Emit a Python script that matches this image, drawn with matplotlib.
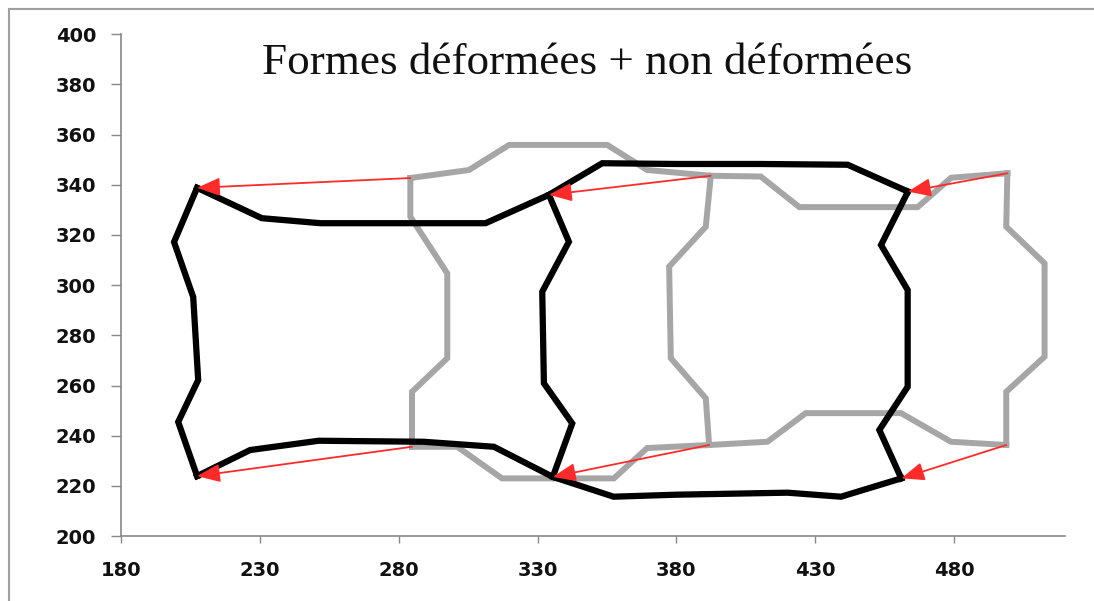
import matplotlib
matplotlib.use('Agg')
import matplotlib.pyplot as plt
from matplotlib.patches import Rectangle

# deformed mesh (black)
def_top_x = [207.4, 230.7, 251.8, 311.3, 334.1, 353.3, 380.0, 410.0, 441.7, 463.4]
def_top_y = [338.8, 326.7, 324.7, 324.7, 336.0, 348.6, 348.3, 348.3, 348.0, 337.3]
def_bot_x = [207.4, 226.5, 251.2, 288.9, 314.3, 335.5, 357.4, 380.0, 420.0, 439.3, 461.0]
def_bot_y = [223.9, 234.3, 238.0, 237.6, 235.6, 223.6, 215.7, 216.5, 217.3, 215.7, 223.0]
def_left_x = [207.4, 199.1, 206.0, 207.8, 200.6, 207.4]
def_left_y = [338.8, 317.2, 295.3, 262.2, 245.5, 223.9]
def_mid_x = [334.1, 341.3, 331.7, 332.3, 342.5, 335.5]
def_mid_y = [336.0, 317.3, 297.4, 260.9, 244.9, 223.6]
def_right_x = [463.4, 453.7, 463.3, 463.3, 453.1, 461.0]
def_right_y = [337.3, 316.0, 298.1, 259.5, 242.3, 223.0]

# undeformed mesh (grey)
und_top_x = [284.2, 305.3, 319.8, 355.1, 369.5, 392.4, 410.4, 424.3, 466.9, 478.9, 499.2]
und_top_y = [342.7, 345.9, 355.9, 355.9, 345.9, 343.6, 343.3, 331.1, 331.1, 342.8, 344.6]
und_bot_x = [284.8, 301.1, 317.2, 357.5, 369.5, 391.8, 412.8, 426.6, 460.9, 478.9, 498.8]
und_bot_y = [235.6, 235.6, 223.0, 223.0, 235.1, 236.3, 237.6, 249.0, 249.0, 237.6, 236.3]
und_left_x = [284.2, 284.2, 297.5, 297.5, 284.8, 284.8]
und_left_y = [342.7, 327.3, 304.7, 270.9, 257.5, 235.6]
und_mid_x = [392.4, 390.6, 377.4, 378.0, 390.6, 391.8]
und_mid_y = [343.6, 323.3, 307.4, 270.9, 254.9, 236.3]
und_right_x = [499.2, 498.8, 512.6, 512.6, 498.8, 498.8]
und_right_y = [344.6, 323.3, 308.7, 271.5, 257.5, 236.3]

# displacement of the corner nodes: start (undeformed) -> end (deformed)
arrow_x0 = [284.2, 284.8, 392.4, 391.8, 499.2, 498.8]
arrow_y0 = [342.7, 235.6, 343.6, 236.3, 344.6, 236.3]
arrow_x1 = [207.4, 207.4, 334.1, 335.5, 463.4, 461.0]
arrow_y1 = [338.8, 223.9, 336.0, 223.6, 337.3, 223.0]

x_ticks = [180, 230, 280, 330, 380, 430, 480]
y_ticks = [200, 220, 240, 260, 280, 300, 320, 340, 360, 380, 400]

fig = plt.figure(figsize=(10.94, 6.01), dpi=100)
ax = fig.add_axes([0.1106, 0.108, 0.863, 0.835])

grey = '#a6a6a6'
for xs, ys in [(und_top_x, und_top_y), (und_bot_x, und_bot_y), (und_left_x, und_left_y),
               (und_mid_x, und_mid_y), (und_right_x, und_right_y)]:
    ax.plot(xs, ys, color=grey, lw=4.3, solid_joinstyle='miter', zorder=2)

for xs, ys in [(def_top_x, def_top_y), (def_bot_x, def_bot_y), (def_left_x, def_left_y),
               (def_mid_x, def_mid_y), (def_right_x, def_right_y)]:
    ax.plot(xs, ys, color='black', lw=4.5, solid_joinstyle='miter', zorder=3)

for x0, y0, x1, y1 in zip(arrow_x0, arrow_y0, arrow_x1, arrow_y1):
    ax.annotate('', xy=(x1, y1), xytext=(x0, y0),
                arrowprops=dict(arrowstyle='-|>,head_length=0.7,head_width=0.28',
                                mutation_scale=20, color='#ff2a2a', lw=1.3,
                                shrinkA=0, shrinkB=0),
                zorder=4)

fig.text(587 / 1094, 1 - 74 / 601, 'Formes déformées + non déformées',
         ha='center', va='baseline', fontsize=32.5, family='Liberation Serif', color='#111111')

ax.set_xlim(180, 520)
ax.set_ylim(200, 400)
ax.set_xticks(x_ticks)
ax.set_yticks(y_ticks)
for lab in ax.get_xticklabels() + ax.get_yticklabels():
    lab.set_fontweight('bold')
    lab.set_fontsize(14)
    lab.set_color('#111111')
ax.tick_params(axis='y', length=7, width=1, color='#888888', pad=11)
ax.tick_params(axis='x', length=5, width=1, color='#888888', pad=13)
for side in ['top', 'right']:
    ax.spines[side].set_visible(False)
for side in ['left', 'bottom']:
    ax.spines[side].set_color('#888888')
    ax.spines[side].set_linewidth(1.2)

# chart area frame
fig.patches.append(Rectangle((9 / 1094, -0.1), 1.2, 1 - 9 / 601 + 0.1, transform=fig.transFigure,
                             fill=False, edgecolor='#a0a0a0', lw=1.5))

fig.savefig('out.png', dpi=100)
